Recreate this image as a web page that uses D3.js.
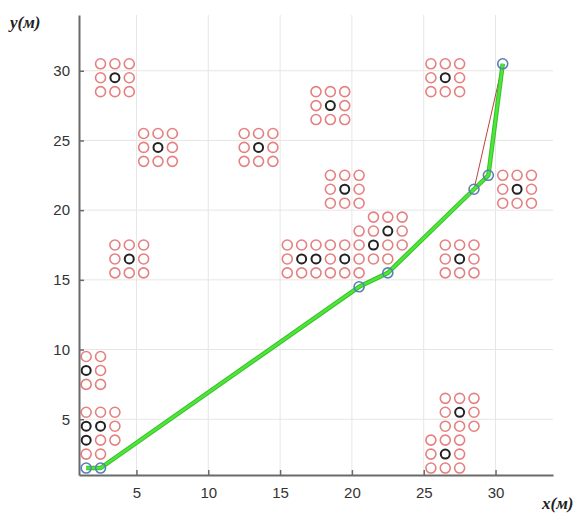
<!DOCTYPE html>
<html><head><meta charset="utf-8">
<script src="https://cdn.jsdelivr.net/npm/d3@7"></script>
<style>body{margin:0;background:#fff;} svg{display:block;}</style>
</head><body>
<svg id="c" width="577" height="516"></svg>
<script>
// Data
const xTicks = [5, 10, 15, 20, 25, 30];
const yTicks = [5, 10, 15, 20, 25, 30];
// obstacle centers (black circles); each occupies a 3x3 block of red cells
const obstacleX = [3.5, 6.5, 13.5, 18.5, 19.5, 16.5, 17.5, 19.5, 21.5, 22.5, 26.5, 31.5, 27.5, 4.5, 1.5, 1.5, 2.5, 1.5, 27.5, 26.5];
const obstacleY = [29.5, 24.5, 24.5, 27.5, 21.5, 16.5, 16.5, 16.5, 17.5, 18.5, 29.5, 21.5, 16.5, 16.5, 8.5, 4.5, 4.5, 3.5, 5.5, 2.5];
// paths
const pathX = [1.5, 2.5, 20.5, 22.5, 28.5, 29.5, 30.5];
const pathY = [1.5, 1.5, 14.5, 15.5, 21.5, 22.5, 30.5];
const rawX = [1.5, 2.5, 20.5, 22.5, 28.5, 30.5];
const rawY = [1.5, 1.5, 14.5, 15.5, 21.5, 30.5];

const svg = d3.select("#c");
const x = d3.scaleLinear().domain([1, 34]).range([79, 553]);
const y = d3.scaleLinear().domain([1, 34]).range([475, 15]);

// grid
svg.append("g").selectAll("line").data(xTicks).join("line")
  .attr("x1", d => x(d)).attr("x2", d => x(d)).attr("y1", y(1)).attr("y2", y(34))
  .attr("stroke", "#e6e6e6").attr("stroke-width", 1);
svg.append("g").selectAll("line").data(yTicks).join("line")
  .attr("y1", d => y(d)).attr("y2", d => y(d)).attr("x1", x(1)).attr("x2", x(34))
  .attr("stroke", "#e6e6e6").attr("stroke-width", 1);

// red cells (deduplicated)
const seen = new Set();
const cells = [];
const centerKeys = new Set(obstacleX.map((cx, i) => cx + "," + obstacleY[i]));
obstacleX.forEach((cx, i) => {
  const cy = obstacleY[i];
  for (let dx = -1; dx <= 1; dx++) for (let dy = -1; dy <= 1; dy++) {
    const px = cx + dx, py = cy + dy;
    const k = px + "," + py;
    if (px < 1 || py < 1 || seen.has(k) || centerKeys.has(k)) continue;
    seen.add(k);
    cells.push([px, py]);
  }
});
const centers = obstacleX.map((cx, i) => [cx, obstacleY[i]]);
svg.append("g").selectAll("circle").data(cells).join("circle")
  .attr("cx", d => x(d[0])).attr("cy", d => y(d[1])).attr("r", 5)
  .attr("fill", "none").attr("stroke", "#e58080").attr("stroke-width", 1.6);
svg.append("g").selectAll("circle").data(centers).join("circle")
  .attr("cx", d => x(d[0])).attr("cy", d => y(d[1])).attr("r", 4.5)
  .attr("fill", "none").attr("stroke", "#222").attr("stroke-width", 2);

// paths
const line = d3.line().x(d => x(d[0])).y(d => y(d[1]));
const green = pathX.map((v, i) => [v, pathY[i]]);
const raw = rawX.map((v, i) => [v, rawY[i]]);
svg.append("path").attr("d", line(raw)).attr("fill", "none")
  .attr("stroke", "#c04040").attr("stroke-width", 1);
svg.append("path").attr("d", line(green)).attr("fill", "none")
  .attr("stroke", "#38c028").attr("stroke-width", 4.5).attr("stroke-linejoin", "round");
svg.append("path").attr("d", line(green)).attr("fill", "none")
  .attr("stroke", "#4de63a").attr("stroke-width", 2.5).attr("stroke-linejoin", "round");
svg.append("g").selectAll("circle").data(green).join("circle")
  .attr("cx", d => x(d[0])).attr("cy", d => y(d[1])).attr("r", 5)
  .attr("fill", "none").attr("stroke", "#5a7fb8").attr("stroke-width", 1.6);

// axes
const ax = svg.append("g").attr("transform", `translate(0,${y(1)})`)
  .call(d3.axisBottom(x).tickValues(xTicks).tickSize(-5).tickPadding(12).tickSizeOuter(0));
const ay = svg.append("g").attr("transform", `translate(${x(1)},0)`)
  .call(d3.axisLeft(y).tickValues(yTicks).tickSize(-5).tickPadding(9).tickSizeOuter(0));
[ax, ay].forEach(g => {
  g.select(".domain").attr("stroke", "#6a6a6a").attr("stroke-width", 2);
  g.selectAll(".tick line").attr("stroke", "#6a6a6a").attr("stroke-width", 1.5);
  g.selectAll("text").attr("fill", "#333").style("font-family", "Liberation Sans, Arial, sans-serif").style("font-size", "15px");
});

// axis labels
svg.append("text").attr("x", 10).attr("y", 28).text("y(м)")
  .style("font-family", "Liberation Serif, Times New Roman, serif").style("font-style", "italic")
  .style("font-weight", "bold").style("font-size", "17px").attr("fill", "#222");
svg.append("text").attr("x", 542).attr("y", 509).text("x(м)")
  .style("font-family", "Liberation Serif, Times New Roman, serif").style("font-style", "italic")
  .style("font-weight", "bold").style("font-size", "17px").attr("fill", "#222");
</script>
</body></html>
